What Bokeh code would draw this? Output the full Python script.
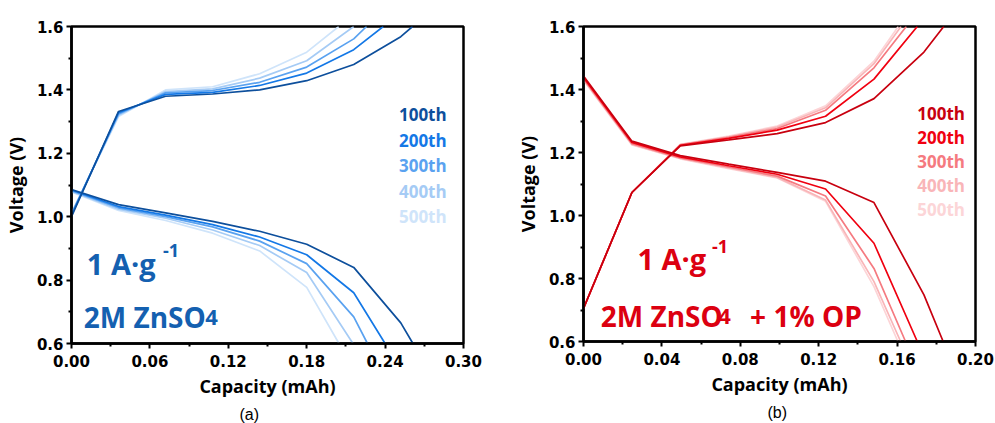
from bokeh.plotting import figure
from bokeh.layouts import row
from bokeh.models import Label, FixedTicker, Range1d, Title
from bokeh.embed import file_html
from bokeh.resources import INLINE

cycles = ["100th", "200th", "300th", "400th", "500th"]
blues = ["#0d4f9c", "#1478e6", "#5aa2f0", "#a5cbf5", "#cfe4fa"]
reds = ["#c8000f", "#f00010", "#f57a80", "#f9b5b8", "#fcd5d7"]

# ---- panel (a): 2M ZnSO4 ----
a_charge_x = [
    [0, 0.036, 0.072, 0.108, 0.144, 0.18, 0.216, 0.252, 0.261],
    [0, 0.036, 0.072, 0.108, 0.144, 0.18, 0.216, 0.2386],
    [0, 0.036, 0.072, 0.108, 0.144, 0.18, 0.216, 0.2258],
    [0, 0.036, 0.072, 0.108, 0.144, 0.18, 0.216],
    [0, 0.036, 0.072, 0.108, 0.144, 0.18, 0.2045],
]
a_charge_v = [
    [1.000, 1.332, 1.380, 1.387, 1.400, 1.429, 1.480, 1.568, 1.6],
    [1.005, 1.328, 1.386, 1.392, 1.414, 1.453, 1.527, 1.6],
    [1.008, 1.324, 1.391, 1.398, 1.424, 1.472, 1.561, 1.6],
    [1.010, 1.320, 1.395, 1.403, 1.437, 1.492, 1.6],
    [1.012, 1.316, 1.400, 1.410, 1.451, 1.519, 1.6],
]
a_dis_x = [
    [0, 0.036, 0.072, 0.108, 0.144, 0.18, 0.216, 0.252, 0.2613],
    [0, 0.036, 0.072, 0.108, 0.144, 0.18, 0.216, 0.240],
    [0, 0.036, 0.072, 0.108, 0.144, 0.18, 0.216, 0.2265],
    [0, 0.036, 0.072, 0.108, 0.144, 0.18, 0.2154],
    [0, 0.036, 0.072, 0.108, 0.144, 0.18, 0.2047],
]
a_dis_v = [
    [1.086, 1.038, 1.012, 0.985, 0.954, 0.913, 0.840, 0.665, 0.6],
    [1.084, 1.032, 1.005, 0.975, 0.936, 0.880, 0.760, 0.6],
    [1.082, 1.028, 1.000, 0.968, 0.923, 0.852, 0.684, 0.6],
    [1.080, 1.024, 0.995, 0.958, 0.909, 0.824, 0.6],
    [1.078, 1.020, 0.988, 0.948, 0.892, 0.777, 0.6],
]
a_xticks = [0.0, 0.06, 0.12, 0.18, 0.24, 0.30]
a_xminor = [0.03, 0.09, 0.15, 0.21, 0.27]

# ---- panel (b): 2M ZnSO4 + 1% OP ----
b_charge_x = [
    [0, 0.0247, 0.0494, 0.0741, 0.0988, 0.1235, 0.1482, 0.1737, 0.1838],
    [0, 0.0247, 0.0494, 0.0741, 0.0988, 0.1235, 0.1482, 0.1703],
    [0, 0.0247, 0.0494, 0.0741, 0.0988, 0.1235, 0.1482, 0.1647],
    [0, 0.0247, 0.0494, 0.0741, 0.0988, 0.1235, 0.1482, 0.1620],
    [0, 0.0247, 0.0494, 0.0741, 0.0988, 0.1235, 0.1482, 0.1606],
]
b_charge_v = [
    [0.705, 1.073, 1.221, 1.240, 1.260, 1.295, 1.371, 1.519, 1.6],
    [0.705, 1.073, 1.223, 1.245, 1.271, 1.315, 1.433, 1.6],
    [0.705, 1.073, 1.224, 1.248, 1.276, 1.334, 1.469, 1.6],
    [0.705, 1.073, 1.225, 1.250, 1.281, 1.342, 1.482, 1.6],
    [0.705, 1.073, 1.226, 1.252, 1.284, 1.348, 1.490, 1.6],
]
b_dis_x = [
    [0, 0.0247, 0.0494, 0.0741, 0.0988, 0.1235, 0.1482, 0.1737, 0.1835],
    [0, 0.0247, 0.0494, 0.0741, 0.0988, 0.1235, 0.1482, 0.1703],
    [0, 0.0247, 0.0494, 0.0741, 0.0988, 0.1235, 0.1482, 0.1643],
    [0, 0.0247, 0.0494, 0.0741, 0.0988, 0.1235, 0.1482, 0.1618],
    [0, 0.0247, 0.0494, 0.0741, 0.0988, 0.1235, 0.1482, 0.1604],
]
b_dis_v = [
    [1.443, 1.236, 1.190, 1.163, 1.137, 1.109, 1.041, 0.748, 0.6],
    [1.438, 1.232, 1.186, 1.158, 1.131, 1.084, 0.912, 0.6],
    [1.434, 1.228, 1.183, 1.154, 1.125, 1.062, 0.832, 0.6],
    [1.431, 1.226, 1.181, 1.151, 1.121, 1.049, 0.790, 0.6],
    [1.429, 1.224, 1.180, 1.149, 1.119, 1.045, 0.774, 0.6],
]
b_xticks = [0.0, 0.04, 0.08, 0.12, 0.16, 0.20]
b_xminor = [0.02, 0.06, 0.10, 0.14, 0.18]

yticks = [0.6, 0.8, 1.0, 1.2, 1.4, 1.6]
yminor = [0.7, 0.9, 1.1, 1.3, 1.5]

TICK_FONT = "DejaVu Sans"
TEXT_FONT = "Open Sans"


def make_panel(xmax, xticks, xminor, cx, cv, dx, dv, colors, left, right, top, fh,
               caption, cap_offset):
    p = figure(output_backend="svg", toolbar_location=None,
               frame_width=392, frame_height=fh,
               min_border_left=left, min_border_right=right,
               min_border_top=top, min_border_bottom=0,
               x_range=Range1d(0, xmax), y_range=Range1d(0.6, 1.6),
               background_fill_color="white", border_fill_color="white")
    p.grid.visible = False
    p.outline_line_color = "black"
    p.outline_line_width = 2.5
    p.xaxis.ticker = FixedTicker(ticks=xticks, minor_ticks=xminor)
    p.yaxis.ticker = FixedTicker(ticks=yticks, minor_ticks=yminor)
    for ax in (p.xaxis[0], p.yaxis[0]):
        ax.axis_line_width = 2.5
        ax.axis_line_color = "black"
        ax.major_tick_line_width = 2
        ax.major_tick_out = 5
        ax.major_tick_in = 0
        ax.minor_tick_line_width = 2
        ax.minor_tick_out = 3
        ax.minor_tick_in = 0
        ax.major_label_text_font = TICK_FONT
        ax.major_label_text_font_style = "bold"
        ax.major_label_text_font_size = "15px"
        ax.major_label_text_color = "black"
        ax.axis_label_text_font = TEXT_FONT
        ax.axis_label_text_font_style = "bold"
        ax.axis_label_text_font_size = "18px"
        ax.axis_label_text_color = "black"
    p.xaxis.axis_label = "Capacity (mAh)"
    p.yaxis.axis_label = "Voltage (V)"
    p.xaxis.major_label_standoff = 6
    p.yaxis.major_label_standoff = 3
    p.xaxis.axis_label_standoff = 4
    p.yaxis.axis_label_standoff = 6
    p.xaxis.major_label_overrides = {t: f"{t:.2f}" for t in xticks}
    p.yaxis.major_label_overrides = {t: f"{t:.1f}" for t in yticks}
    p.add_layout(Title(text=caption, align="left", offset=cap_offset,
                       text_font="Liberation Sans", text_font_style="normal",
                       text_font_size="16px", text_color="black",
                       standoff=6), "below")
    for i in reversed(range(5)):
        p.line(cx[i], cv[i], line_color=colors[i], line_width=1.7)
        p.line(dx[i], dv[i], line_color=colors[i], line_width=1.7)
    return p


pa = make_panel(0.30, a_xticks, a_xminor, a_charge_x, a_charge_v, a_dis_x, a_dis_v,
                blues, 71, 34, 26, 317, "(a)", 168)
pb = make_panel(0.20, b_xticks, b_xminor, b_charge_x, b_charge_v, b_dis_x, b_dis_v,
                reds, 86, 20, 25, 315, "(b)", 184)
pa.height = 423
pb.height = 423


def lab(p, x, y, text, color, size, font=TEXT_FONT, style="bold", align="left",
        baseline="alphabetic"):
    p.add_layout(Label(x=x, y=y, text=text, text_color=color,
                       text_font=font, text_font_style=style,
                       text_font_size=size, text_align=align,
                       text_baseline=baseline))


# legends
for i, c in enumerate(cycles):
    lab(pa, 0.2506, 1.322 - i * 0.0805, c, blues[i], "17px")
    lab(pb, 0.1703, 1.324 - i * 0.0763, c, reds[i], "17px")

blue_txt = "#1460b0"
red_txt = "#dc0010"
# panel a annotations
lab(pa, 0.0117, 0.853, "1 A\u00b7g", blue_txt, "29px")
lab(pa, 0.0700, 0.894, "-1", blue_txt, "18px")
lab(pa, 0.0094, 0.683, "2M ZnSO", blue_txt, "28px")
lab(pa, 0.1024, 0.681, "4", blue_txt, "22px")

# panel b annotations
lab(pb, 0.0275, 0.863, "1 A\u00b7g", red_txt, "29px")
lab(pb, 0.0655, 0.901, "-1", red_txt, "18px")
lab(pb, 0.0088, 0.682, "2M ZnSO", red_txt, "28px")
lab(pb, 0.0688, 0.680, "4", red_txt, "22px")
lab(pb, 0.0850, 0.682, "+ 1% OP", red_txt, "28px")

layout = row(pa, pb)
open("out.html", "w").write(file_html(layout, INLINE))
